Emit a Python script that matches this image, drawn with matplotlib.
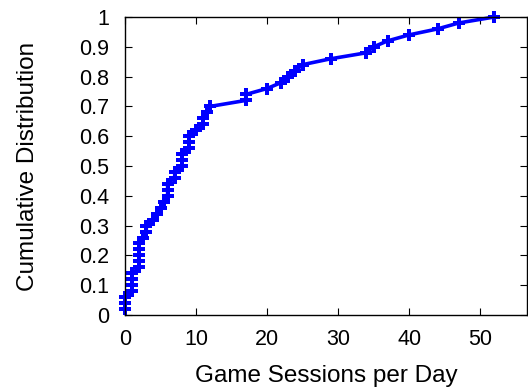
import matplotlib
matplotlib.use('Agg')
import matplotlib.pyplot as plt

# sessions per day for each user, sorted, and the cumulative fraction
sessions = [0, 0, 0, 1, 1, 1, 1, 2, 2, 2, 2, 2, 2.5, 3, 3, 4, 4.5, 5, 5.5,
            6, 6, 6, 7, 7, 8, 8, 8, 9, 9, 9, 10, 11, 11, 11.5, 12, 17, 17,
            20, 22, 23, 24, 25, 29, 34, 35, 37, 40, 44, 47, 52]
cdf = [(i + 1) / len(sessions) for i in range(len(sessions))]

xticks = [0, 10, 20, 30, 40, 50]
yticks = [i / 10 for i in range(11)]
ytick_labels = ['0', '0.1', '0.2', '0.3', '0.4', '0.5', '0.6', '0.7', '0.8', '0.9', '1']

plt.rcParams['font.family'] = ['Liberation Sans', 'DejaVu Sans']

fig = plt.figure(figsize=(5.28, 3.9), dpi=100)
ax = fig.add_axes([125 / 528, 1 - 315 / 390, 402 / 528, 298 / 390])

ax.plot(sessions, cdf, color='#0000ff', linewidth=2.6, marker='P',
        markersize=8.5, markeredgewidth=0, clip_on=False)

ax.set_xlim(0, 56.6)
ax.set_ylim(0, 1)
ax.set_xticks(xticks)
ax.set_yticks(yticks)
ax.set_yticklabels(ytick_labels)
ax.tick_params(direction='in', length=5, width=0.8, top=True, right=True,
               labelsize=15.5)
ax.tick_params(axis='y', pad=11.5)
ax.tick_params(axis='x', pad=10)
for s in ax.spines.values():
    s.set_linewidth(1.0)

ax.set_xlabel('Game Sessions per Day', fontsize=17.5, labelpad=11)
ax.set_ylabel('Cumulative Distribution', fontsize=17.5, labelpad=29)

fig.savefig('out.png', dpi=100)
